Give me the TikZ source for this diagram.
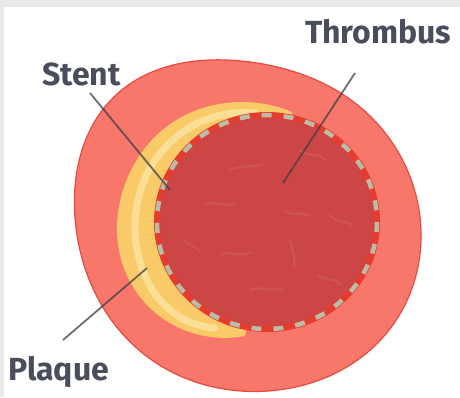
\documentclass[tikz,border=0pt]{standalone}
\usepackage{fontspec}
\setmainfont{Fira Sans}
\usetikzlibrary{hobby}
\definecolor{frame}{HTML}{E9E9E9}
\definecolor{wall}{HTML}{F8776B}
\definecolor{walledge}{HTML}{E9493E}
\definecolor{clot}{HTML}{CC4646}
\definecolor{plaque}{HTML}{F8CB68}
\definecolor{plaquelight}{HTML}{FDE7A6}
\definecolor{strut}{HTML}{B7BDA6}
\definecolor{strutgap}{HTML}{E63C30}
\definecolor{labeltext}{HTML}{4A4E5C}
\definecolor{leader}{HTML}{3E3E46}
\tikzset{
  lbl/.style={text=labeltext, font=\bfseries\fontsize{32}{36}\selectfont, inner sep=0pt, anchor=base west},
  leaderline/.style={draw=leader, line width=1.8pt, draw opacity=0.75},
  streak/.style={draw=white, line width=2.5pt, draw opacity=0.07, line cap=round},
}
\begin{document}
\begin{tikzpicture}[x=1pt,y=-1pt]
  % page and frame
  \fill[frame] (0,0) rectangle (460,397);
  \fill[white] (4,7) rectangle (460,397);
  \useasboundingbox (0,0) rectangle (460,397);

  % vessel wall
  \filldraw[fill=wall, draw=walledge, line width=1.2pt, use Hobby shortcut, closed=true]
    (250,62) .. (355,103) .. (421,232) .. (385,335) .. (268,391)
    .. (145,355) .. (75,218) .. (116,95) .. (250,62);

  % plaque crescent
  \fill[plaque, use Hobby shortcut]
    (292,112) .. (240,102) .. (165,128) .. (123,190) .. (120,255)
    .. (150,308) .. (200,335) .. (245,336)
    -- (267,222) -- cycle;
  \draw[plaquelight, line width=7pt, line cap=round, opacity=0.75, use Hobby shortcut]
    (255,113) .. (175,138) .. (138,200) .. (140,262) .. (170,310) .. (215,328);

  % thrombus
  \fill[clot] (267,222) ellipse [x radius=110, y radius=107];
  \draw[streak] (230,170) .. controls (240,165) and (255,168) .. (262,164);
  \draw[streak] (300,150) .. controls (310,158) and (318,152) .. (325,160);
  \draw[streak] (205,205) .. controls (215,200) and (225,208) .. (235,203);
  \draw[streak] (285,210) .. controls (292,218) and (300,210) .. (310,216);
  \draw[streak] (330,215) .. controls (338,225) and (345,218) .. (352,226);
  \draw[streak] (220,255) .. controls (232,250) and (240,258) .. (252,252);
  \draw[streak] (290,240) .. controls (292,250) and (296,258) .. (294,268);
  \draw[streak] (250,290) .. controls (262,286) and (272,292) .. (282,288);
  \draw[streak] (318,275) .. controls (326,282) and (332,276) .. (340,284);
  \draw[streak] (185,240) .. controls (190,248) and (196,244) .. (200,252);

  % stent struts along the lumen
  \draw[strutgap, line width=6pt] (267,222) ellipse [x radius=110, y radius=107];
  \draw[strut, line width=4.5pt, dash pattern=on 10pt off 12pt]
    (267,222) ellipse [x radius=110, y radius=107];

  % labels
  \node[lbl] (thrombus) at (305,43) {Thrombus};
  \node[lbl] (stent) at (42,85) {Stent};
  \node[lbl] (plaquelbl) at (8,380) {Plaque};

  % leader ends
  \coordinate (thrombusend) at (283,183);
  \coordinate (stentend) at (170,190);
  \coordinate (plaqueend) at (147,268);
  \coordinate (thrombusstart) at (355,73);
  \coordinate (stentstart) at (90,93);
  \coordinate (plaquestart) at (63,340);

  \draw[leaderline] (thrombusstart) -- (thrombusend);
  \draw[leaderline] (stentstart) -- (stentend);
  \draw[leaderline] (plaquestart) -- (plaqueend);
\end{tikzpicture}
\end{document}
